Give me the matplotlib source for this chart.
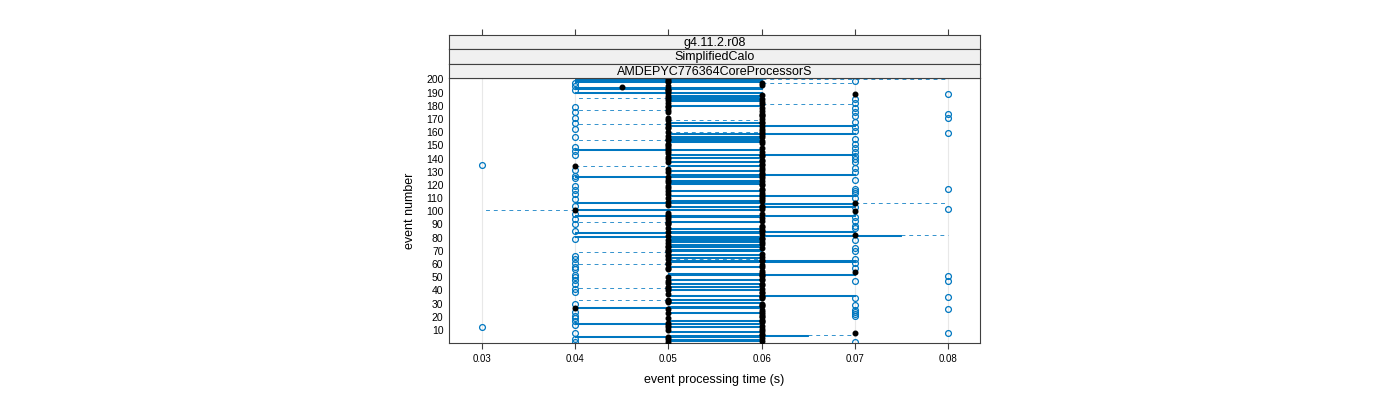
import matplotlib.pyplot as plt
import numpy as np

plt.rcParams['font.family'] = ['Liberation Sans', 'DejaVu Sans']

# one box per event (1..200); times in units of 0.01 s
events = np.arange(1, 201)

q1 = [5, 5, 5, 6, 4, 5, 6, 7, 5, 5, 6, 5, 5, 5, 4, 6, 5, 6, 5, 6,
      6, 6, 5, 6, 6, 5, 4, 5, 6, 6, 5, 5, 5, 6, 6, 5, 5, 6, 6, 5,
      5, 5, 5, 6, 5, 5, 5, 5, 6, 5, 6, 5, 5, 7, 6, 5, 5, 5, 6, 5,
      5, 5, 5, 5, 5, 5, 5, 6, 5, 5, 5, 6, 5, 5, 5, 5, 5, 5, 5, 5,
      4, 6, 6, 4, 5, 6, 5, 6, 6, 5, 5, 5, 6, 5, 6, 5, 4, 6, 5, 7,
      4, 6, 6, 5, 5, 6, 4, 5, 6, 5, 6, 5, 5, 6, 5, 5, 6, 5, 5, 6,
      5, 5, 5, 5, 6, 4, 6, 5, 6, 5, 5, 5, 6, 4, 5, 6, 5, 5, 6, 5,
      5, 6, 5, 5, 6, 5, 4, 6, 5, 5, 5, 6, 5, 5, 5, 5, 5, 6, 5, 5,
      6, 6, 5, 5, 5, 5, 5, 6, 5, 6, 5, 6, 6, 6, 5, 6, 5, 6, 5, 5,
      6, 5, 6, 5, 5, 5, 5, 5, 7, 4, 5, 5, 4, 4, 5, 6, 6, 4, 5, 4]
med = [5, 6, 5, 6, 5, 6, 6, 7, 6, 5, 6, 5, 6, 5, 5, 6, 6, 6, 5, 6,
       6, 6, 5, 6, 6, 5, 4, 6, 6, 6, 5, 5, 5, 6, 6, 6, 5, 6, 6, 5,
       6, 5, 5, 6, 6, 5, 5, 6, 6, 5, 6, 6, 6, 7, 6, 5, 5, 6, 6, 5,
       5, 6, 6, 5, 6, 5, 5, 6, 5, 5, 5, 6, 5, 5, 6, 5, 6, 5, 6, 6,
       5, 7, 6, 5, 6, 6, 5, 6, 6, 5, 5, 5, 6, 5, 6, 5, 5, 6, 5, 7,
       4, 6, 6, 6, 5, 7, 5, 6, 6, 5, 6, 6, 5, 6, 5, 6, 6, 5, 5, 6,
       6, 5, 6, 5, 6, 5, 6, 6, 6, 5, 6, 5, 6, 4, 6, 6, 5, 6, 6, 5,
       5, 6, 6, 5, 6, 5, 5, 6, 5, 5, 5, 6, 6, 5, 5, 6, 5, 6, 6, 5,
       6, 6, 5, 5, 6, 5, 6, 6, 5, 6, 5, 6, 6, 6, 5, 6, 5, 6, 5, 5,
       6, 5, 6, 5, 6, 5, 5, 6, 7, 5, 5, 5, 5, 4.5, 5, 6, 6, 5, 5, 5]
q3 = [5, 6, 6, 6, 6, 6.5, 6, 7, 6, 5, 6, 5, 6, 5, 6, 6, 6, 6, 5, 6,
      6, 6, 6, 6, 6, 5, 6, 6, 6, 6, 6, 5, 6, 6, 6, 7, 5, 6, 6, 5,
      6, 5, 6, 6, 6, 5, 5, 6, 6, 5, 6, 7, 6, 7, 6, 5, 5, 6, 6, 5,
      5, 7, 7, 5, 6, 5, 6, 6, 5, 6, 6, 6, 6, 6, 6, 5, 6, 6, 6, 6,
      6, 7.5, 6, 6, 7, 6, 6, 6, 6, 5, 5, 6, 6, 5, 6, 6, 7, 6, 5, 7,
      6, 6, 6, 7, 5, 7, 6, 6, 6, 5, 6, 7, 5, 6, 5, 6, 6, 5, 5, 6,
      6, 6, 6, 5, 6, 6, 6, 7, 6, 5, 6, 5, 6, 4, 6, 6, 5, 6, 6, 5,
      6, 6, 7, 5, 6, 5, 6, 6, 5, 5, 5, 6, 6, 6, 6, 6, 6, 6, 7, 5,
      6, 6, 5, 5, 7, 5, 6, 6, 5, 6, 5, 6, 6, 6, 5, 6, 5, 6, 5, 6,
      6, 5, 6, 6, 6, 6, 6, 6, 7, 6, 5, 5, 6, 6, 5, 6, 6, 6, 5, 6]

# whiskers that reach beyond the box
wlo_events = [33, 42, 60, 69, 92, 101, 154, 166, 177, 186]
wlo_values = [4, 4, 4, 4, 4, 3, 4, 4, 4, 4]
whi_events = [6, 64, 82, 106, 134, 160, 169, 181, 197, 200]
whi_values = [7, 6, 8, 8, 5, 6, 6, 7, 7, 8]

# outlying events at each time value
out_03 = [12, 135]
out_04 = [1, 3, 8, 14, 17, 19, 21, 24, 30, 39, 41, 45, 48, 50, 52, 56, 58, 61,
          64, 66, 79, 85, 90, 94, 98, 104, 109, 113, 116, 119, 125, 127, 131,
          143, 146, 149, 156, 162, 167, 171, 175, 179, 192, 195, 197]
out_07 = [1, 21, 22, 24, 25, 29, 34, 47, 57, 61, 64, 70, 72, 78, 87, 89, 93,
          96, 103, 110, 114, 115, 117, 124, 130, 133, 137, 140, 142, 145, 148,
          151, 155, 161, 164, 168, 172, 175, 178, 182, 185, 199]
out_08 = [8, 26, 35, 47, 51, 102, 117, 159, 171, 174, 189]

strips = ["g4.11.2.r08", "SimplifiedCalo", "AMDEPYC776364CoreProcessorS"]
xticks = [0.03, 0.04, 0.05, 0.06, 0.07, 0.08]

blue = '#0077C0'

stats = []
for i, ev in enumerate(events):
    lo = q1[i]
    hi = q3[i]
    if ev in wlo_events:
        lo = wlo_values[wlo_events.index(ev)]
    if ev in whi_events:
        hi = whi_values[whi_events.index(ev)]
    fl = []
    for v, lst in [(3, out_03), (4, out_04), (7, out_07), (8, out_08)]:
        if ev in lst:
            fl.append(v * 0.01)
    stats.append(dict(med=med[i] * 0.01, q1=q1[i] * 0.01, q3=q3[i] * 0.01,
                      whislo=lo * 0.01, whishi=hi * 0.01, fliers=fl))

fig = plt.figure(figsize=(14, 4), dpi=100)
ax = fig.add_axes([449 / 1400, 1 - 343 / 400, 531 / 1400, 265 / 400])

ax.bxp(stats, positions=events, widths=0.75, orientation='horizontal',
       showcaps=False, manage_ticks=False,
       boxprops=dict(color=blue, lw=0.75),
       whiskerprops=dict(color=blue, lw=0.7, alpha=0.8, linestyle=(0, (4, 4))),
       medianprops=dict(lw=0),
       flierprops=dict(marker='o', mfc='none', mec=blue, ms=4.2, mew=0.9))
ax.plot(np.array(med) * 0.01, events, 'o', color='black', ms=3.3, zorder=4)

ax.set_xlim(0.02646, 0.08343)
ax.set_ylim(0.2, 201.0)
ax.set_xticks(xticks)
ax.set_xticklabels(["%.2f" % t for t in xticks], fontsize=7)
ax.set_yticks(np.arange(10, 201, 10))
ax.set_yticklabels([str(t) for t in range(10, 201, 10)], fontsize=7.5)
ax.tick_params(axis='x', length=4, width=0.8, color='#404040', pad=4)
ax.tick_params(axis='y', length=0, pad=4)
ax.grid(axis='x', color='#e8e8e8', lw=0.8)
ax.grid(axis='y', visible=False)
ax.set_axisbelow(True)
for s in ax.spines.values():
    s.set_color('#404040')
    s.set_linewidth(0.8)
ax.set_xlabel("event processing time (s)", fontsize=9, labelpad=7)
ax.set_ylabel("event number", fontsize=9, labelpad=7)

# strips on top of the panel
sh = (43 / 3) / 400
for k, label in enumerate(strips):
    bottom = 1 - 78 / 400 + (2 - k) * sh
    sa = fig.add_axes([449 / 1400, bottom, 531 / 1400, sh])
    sa.set_facecolor('#f0f0f0')
    sa.set_xlim(ax.get_xlim())
    sa.set_ylim(0, 1)
    sa.text(0.5, 0.45, label, transform=sa.transAxes, ha='center',
            va='center', fontsize=9)
    sa.set_yticks([])
    if k == 0:
        sa.set_xticks(xticks)
        sa.xaxis.set_ticks_position('top')
        sa.tick_params(axis='x', length=4, width=0.8, color='#404040',
                       labeltop=False, labelbottom=False)
    else:
        sa.set_xticks([])
    for s in sa.spines.values():
        s.set_color('#404040')
        s.set_linewidth(0.8)

plt.savefig("out.png", dpi=100)
